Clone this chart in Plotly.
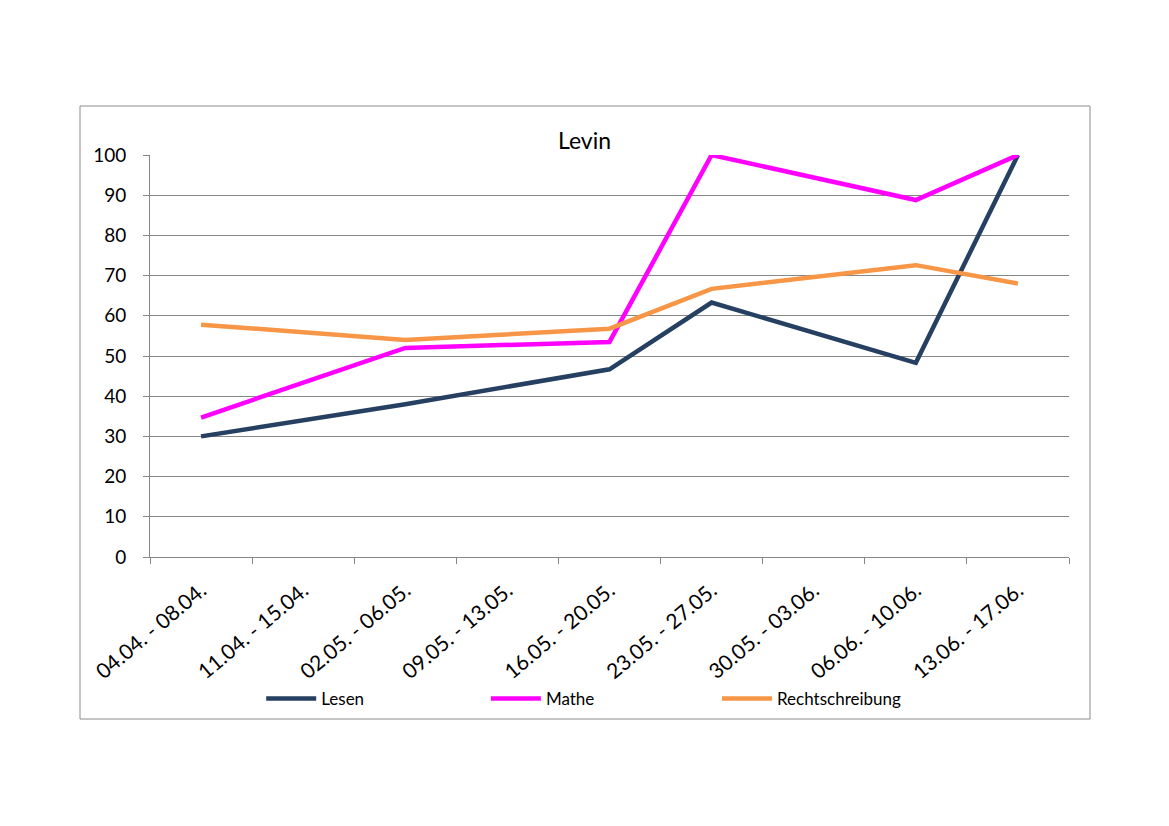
import plotly.graph_objects as go

categories = ["04.04. - 08.04.", "11.04. - 15.04.", "02.05. - 06.05.", "09.05. - 13.05.",
              "16.05. - 20.05.", "23.05. - 27.05.", "30.05. - 03.06.", "06.06. - 10.06.",
              "13.06. - 17.06."]
lesen = [30, None, 38, None, 46.7, 63.3, None, 48.3, 100]
mathe = [34.7, None, 52, None, 53.5, 100, None, 88.8, 100]
rechtschreibung = [57.8, None, 54, None, 56.8, 66.7, None, 72.6, 68]
y_ticks = list(range(0, 101, 10))

FONT = "Lato"
GRID = "#878787"
OFF = 8  # page offset of the rendered figure

fig = go.Figure()
series = [("Lesen", lesen, "#254061", "legend"),
          ("Mathe", mathe, "#FF00FF", "legend2"),
          ("Rechtschreibung", rechtschreibung, "#F79646", "legend3")]
for name, vals, col, lg in series:
    fig.add_trace(go.Scatter(x=categories, y=vals, name=name, mode="lines",
                             connectgaps=True, line=dict(color=col, width=4.5),
                             legend=lg, showlegend=True))

leg_common = dict(orientation="h", yanchor="middle", y=-0.353, xanchor="left",
                  font=dict(family=FONT, size=17, color="#000000"),
                  bgcolor="rgba(0,0,0,0)", borderwidth=0, itemwidth=50,
                  tracegroupgap=0, visible=True)
fig.update_layout(
    width=1169, height=826, showlegend=True,
    margin=dict(l=150 - OFF, r=100 + OFF, t=155 - OFF, b=269 + OFF),
    paper_bgcolor="white", plot_bgcolor="white",
    font=dict(family=FONT, color="#000000"),
    title=dict(text="Levin", x=0.4728, xref="paper", xanchor="center",
               y=1 - (141 - OFF) / 826, yref="container", yanchor="middle",
               font=dict(family=FONT, size=23, color="#000000")),
    legend=dict(x=0.121, **leg_common),
    legend2=dict(x=0.3655, **leg_common),
    legend3=dict(x=0.617, **leg_common),
    xaxis=dict(type="category", range=[-0.5, 8.5], showgrid=False,
               showline=True, linecolor=GRID, linewidth=1,
               ticks="outside", tickson="boundaries", ticklen=6, tickcolor=GRID,
               tickangle=-40, tickfont=dict(family=FONT, size=21, color="#000000"),
               ticklabelstandoff=12, fixedrange=True),
    yaxis=dict(range=[0, 100], tickvals=y_ticks, showgrid=True, gridcolor=GRID,
               gridwidth=1, showline=True, linecolor=GRID, linewidth=1,
               ticks="outside", ticklen=6, tickcolor=GRID, zeroline=False,
               ticklabelstandoff=13,
               tickfont=dict(family=FONT, size=19, color="#000000"), fixedrange=True),
    shapes=[dict(type="rect", xref="paper", yref="paper",
                 x0=(80 - 150) / 919, x1=(1090 - 150) / 919,
                 y0=(557 - 719) / 402, y1=(557 - 106) / 402,
                 line=dict(color="#8C8C8C", width=1), fillcolor="rgba(0,0,0,0)",
                 layer="below")],
)

fig.write_html("out.html")
